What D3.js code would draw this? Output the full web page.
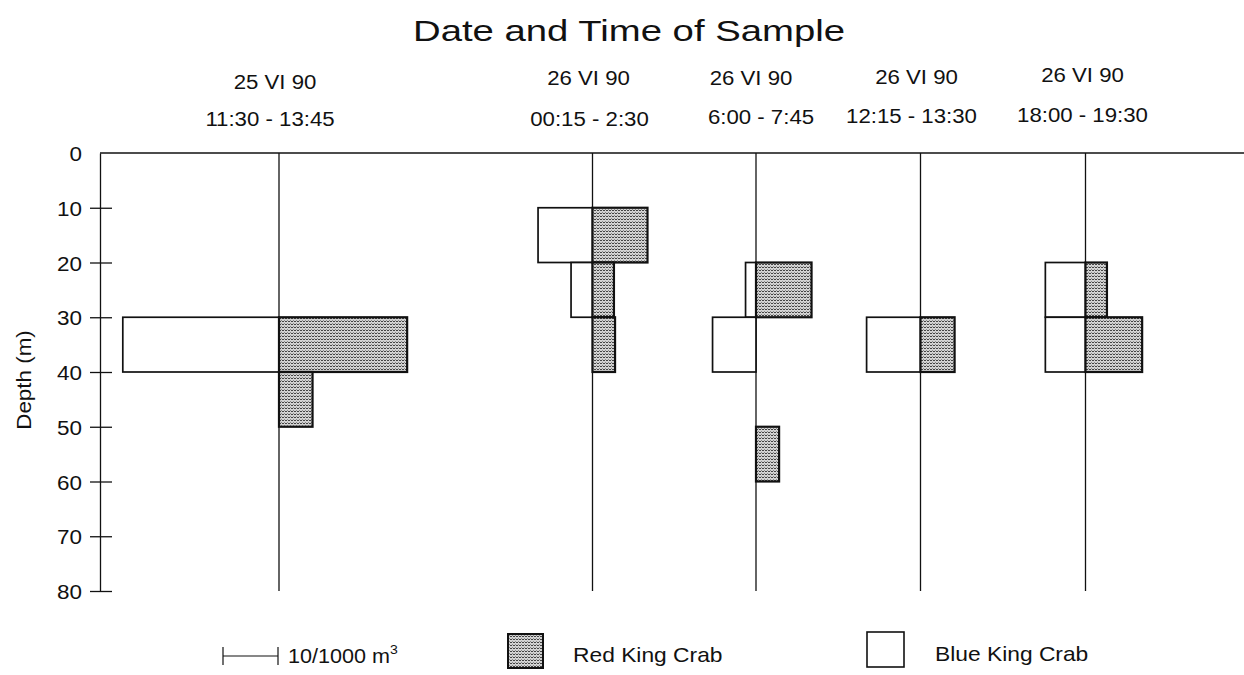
<!DOCTYPE html>
<html>
<head>
<meta charset="utf-8">
<script src="https://cdn.jsdelivr.net/npm/d3@7"></script>
<style>
  html, body { margin: 0; padding: 0; background: #fff; }
  svg { display: block; font-family: "Liberation Sans", Arial, Helvetica, sans-serif; }
</style>
</head>
<body>
<svg id="chart" width="1244" height="675"></svg>
<script>
// Sampling stations: date and time window of each tow
const sampleDates = ["25 VI 90", "26 VI 90", "26 VI 90", "26 VI 90", "26 VI 90"];
const sampleTimes = ["11:30 - 13:45", "00:15 - 2:30", "6:00 - 7:45", "12:15 - 13:30", "18:00 - 19:30"];

// Depth axis (m)
const depthTicks = [0, 10, 20, 30, 40, 50, 60, 70, 80];
const binSize = 10;

// Red king crab larvae: station index, top of 10 m depth bin, density (no./1000 m^3)
const redStation  = [0, 0, 1, 1, 1, 2, 2, 3, 4, 4];
const redDepthTop = [30, 40, 10, 20, 30, 20, 50, 30, 20, 30];
const redDensity  = [23.3, 6.1, 10.0, 3.9, 4.1, 10.1, 4.2, 6.2, 3.9, 10.3];

// Blue king crab larvae
const blueStation  = [0, 1, 1, 2, 2, 3, 4, 4];
const blueDepthTop = [30, 10, 20, 20, 30, 30, 20, 30];
const blueDensity  = [28.4, 9.9, 3.9, 1.9, 7.9, 9.8, 7.3, 7.3];

// Legend entries
const legendScaleValue = 10;
const legendNames = ["Red King Crab", "Blue King Crab"];

// ---- layout ----
const svg = d3.select("#chart");
const columnX = [279, 592.5, 756, 920.5, 1085.5];     // centre line of each station column
const dateDx = [-4, -4, -5, -4, -3], dateY = [89, 85, 85, 84, 82];       // header line 1 placement
const timeDx = [-9, -3, 5, -9, -3], timeY = [126, 126, 124, 123, 122];   // header line 2 placement
const plotLeft = 100, plotRight = 1244;
const textStretch = 1.14;                              // horizontal glyph stretch of the lettering

const y = d3.scaleLinear().domain([0, 80]).range([153, 591]);
const w = d3.scaleLinear().domain([0, 10]).range([0, 55]);   // density -> bar length

// stipple fill for the red king crab bars
const defs = svg.append("defs");
const pat = defs.append("pattern")
  .attr("id", "stipple").attr("patternUnits", "userSpaceOnUse")
  .attr("width", 3).attr("height", 3);
pat.append("rect").attr("width", 3).attr("height", 3).attr("fill", "#d2d2d2");
pat.append("rect").attr("x", 0).attr("y", 0).attr("width", 2).attr("height", 1).attr("fill", "#444");
pat.append("rect").attr("x", 2).attr("y", 2).attr("width", 1).attr("height", 1).attr("fill", "#888");

function stretchedText(sel, x, yy, anchor, size, str, sx) {
  return sel.append("text")
    .attr("transform", `translate(${x},${yy}) scale(${sx || textStretch},1)`)
    .attr("text-anchor", anchor)
    .attr("font-size", size)
    .attr("fill", "#111")
    .text(str);
}

// title
svg.append("text")
  .attr("x", 413).attr("y", 41)
  .attr("font-size", 29)
  .attr("textLength", 432).attr("lengthAdjust", "spacingAndGlyphs")
  .attr("fill", "#111")
  .text("Date and Time of Sample");

// station headers
sampleDates.forEach((d, i) => {
  stretchedText(svg, columnX[i] + dateDx[i], dateY[i], "middle", 19.5, d);
  stretchedText(svg, columnX[i] + timeDx[i], timeY[i], "middle", 19.5, sampleTimes[i]);
});

// depth axis
const axis = d3.axisLeft(y).tickValues(depthTicks).tickSize(10).tickSizeOuter(0).tickPadding(8);
const gAxis = svg.append("g").attr("transform", `translate(${plotLeft},0)`).call(axis);
gAxis.select(".domain").attr("stroke", "#111").attr("stroke-width", 1.3);
gAxis.selectAll(".tick line")
  .attr("x1", 12).attr("x2", -10)
  .attr("stroke", "#111").attr("stroke-width", 1.3)
  .filter(d => d === 0).remove();
gAxis.selectAll(".tick text")
  .attr("x", null).attr("dy", null)
  .attr("transform", "translate(-18,7.5) scale(1.07,1)")
  .attr("font-size", 21).attr("fill", "#111")
  .attr("font-family", "Liberation Sans, Arial, sans-serif");

svg.append("text")
  .attr("transform", `translate(31,${(y(20) + y(60)) / 2 + 8}) rotate(-90) scale(1.12,1)`)
  .attr("text-anchor", "middle").attr("font-size", 20).attr("fill", "#111")
  .text("Depth (m)");

// surface line
svg.append("line")
  .attr("x1", plotLeft).attr("x2", plotRight)
  .attr("y1", y(0)).attr("y2", y(0))
  .attr("stroke", "#111").attr("stroke-width", 1.5);

// station lines
svg.append("g").selectAll("line").data(columnX).join("line")
  .attr("x1", d => d).attr("x2", d => d)
  .attr("y1", y(0)).attr("y2", y(80))
  .attr("stroke", "#111").attr("stroke-width", 1.3);

// blue king crab bars (to the left of the station line)
const blue = blueStation.map((s, i) => ({ s, top: blueDepthTop[i], v: blueDensity[i] }));
svg.append("g").selectAll("rect").data(blue).join("rect")
  .attr("x", d => columnX[d.s] - w(d.v))
  .attr("y", d => y(d.top))
  .attr("width", d => w(d.v))
  .attr("height", d => y(d.top + binSize) - y(d.top))
  .attr("fill", "#fff").attr("stroke", "#111").attr("stroke-width", 1.7);

// red king crab bars (to the right)
const red = redStation.map((s, i) => ({ s, top: redDepthTop[i], v: redDensity[i] }));
svg.append("g").selectAll("rect").data(red).join("rect")
  .attr("x", d => columnX[d.s])
  .attr("y", d => y(d.top))
  .attr("width", d => w(d.v))
  .attr("height", d => y(d.top + binSize) - y(d.top))
  .attr("fill", "url(#stipple)").attr("stroke", "#111").attr("stroke-width", 2.2);

// legend: scale bar
const lg = svg.append("g");
const sbX = 223, sbY = 656;
lg.append("line").attr("x1", sbX).attr("x2", sbX + w(legendScaleValue))
  .attr("y1", sbY).attr("y2", sbY).attr("stroke", "#111").attr("stroke-width", 1.2);
[sbX, sbX + w(legendScaleValue)].forEach(x => {
  lg.append("line").attr("x1", x).attr("x2", x).attr("y1", sbY - 9).attr("y2", sbY + 9)
    .attr("stroke", "#111").attr("stroke-width", 1.2);
});
const sbText = lg.append("text")
  .attr("transform", `translate(${sbX + w(legendScaleValue) + 10},${sbY + 7}) scale(1.08,1)`)
  .attr("font-size", 20).attr("fill", "#111");
sbText.append("tspan").text(`${legendScaleValue}/1000 m`);
sbText.append("tspan").attr("dy", -9).attr("font-size", 13).text("3");

// legend: species boxes
lg.append("rect").attr("x", 508).attr("y", 634).attr("width", 35).attr("height", 34)
  .attr("fill", "url(#stipple)").attr("stroke", "#111").attr("stroke-width", 2);
stretchedText(lg, 573, 662, "start", 20, legendNames[0]);
lg.append("rect").attr("x", 867).attr("y", 632).attr("width", 37).attr("height", 35)
  .attr("fill", "#fff").attr("stroke", "#111").attr("stroke-width", 1.6);
stretchedText(lg, 935, 661, "start", 20, legendNames[1]);
</script>
</body>
</html>
